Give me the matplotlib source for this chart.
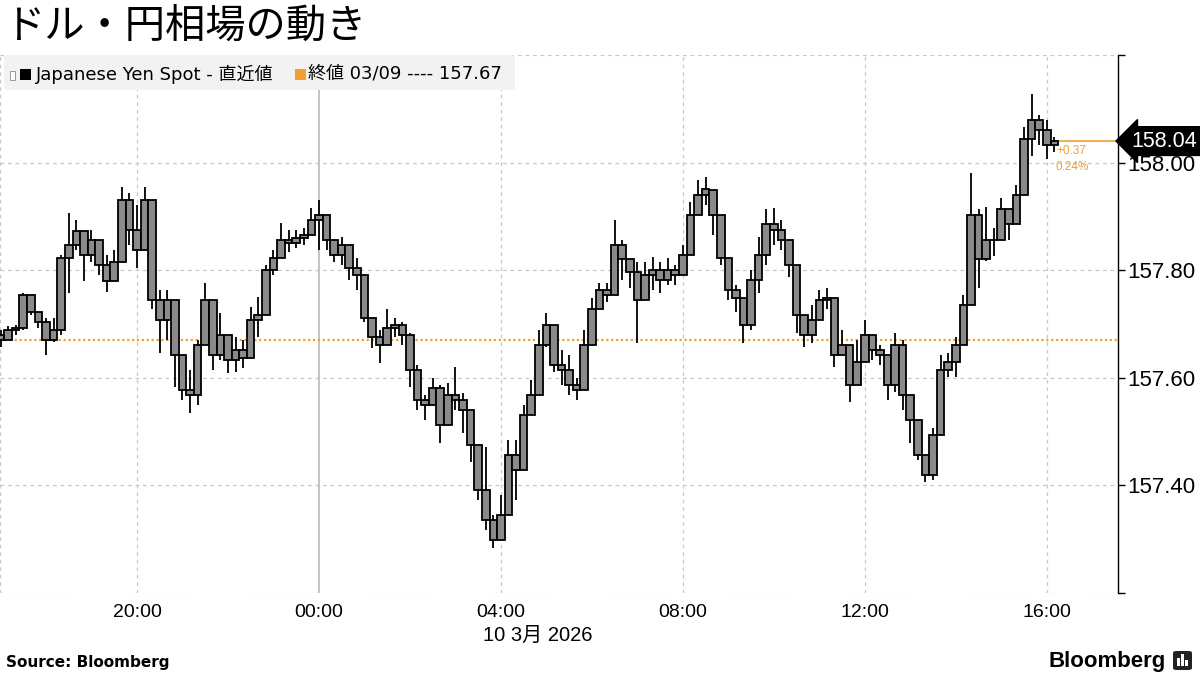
import matplotlib
matplotlib.use("Agg")
import matplotlib.pyplot as plt
import matplotlib.dates as mdates
from matplotlib.patches import FancyBboxPatch, Rectangle
import numpy as np
import pandas as pd

# 10-minute bars, USD/JPY, 2026-03-09 17:00 -> 2026-03-10 16:10
start_time = "2026-03-09 17:00"
first_open = 157.680
closes = [
    157.671, 157.689, 157.693, 157.754, 157.723, 157.704, 157.671, 157.689, 157.823, 157.847,
    157.872, 157.829, 157.857, 157.810, 157.779, 157.816, 157.931, 157.875, 157.838, 157.931,
    157.745, 157.708, 157.745, 157.643, 157.578, 157.568, 157.661, 157.745, 157.643, 157.680,
    157.634, 157.652, 157.637, 157.708, 157.717, 157.801, 157.823, 157.857, 157.851, 157.860,
    157.866, 157.894, 157.903, 157.857, 157.829, 157.847, 157.805, 157.792, 157.712, 157.675,
    157.661, 157.693, 157.699, 157.680, 157.615, 157.559, 157.550, 157.581, 157.513, 157.568,
    157.559, 157.540, 157.475, 157.392, 157.336, 157.299, 157.345, 157.457, 157.429, 157.531,
    157.568, 157.661, 157.699, 157.624, 157.615, 157.587, 157.578, 157.661, 157.727, 157.764,
    157.754, 157.847, 157.820, 157.797, 157.745, 157.792, 157.801, 157.782, 157.801, 157.792,
    157.829, 157.903, 157.940, 157.950, 157.903, 157.823, 157.764, 157.749, 157.699, 157.782,
    157.829, 157.885, 157.875, 157.857, 157.810, 157.717, 157.680, 157.708, 157.745, 157.749,
    157.643, 157.661, 157.587, 157.630, 157.680, 157.652, 157.643, 157.587, 157.661, 157.568,
    157.522, 157.457, 157.420, 157.494, 157.615, 157.630, 157.661, 157.736, 157.903, 157.820,
    157.857, 157.857, 157.913, 157.885, 157.940, 158.043, 158.080, 158.061, 158.033, 158.040,
]
highs = [
    157.689, 157.697, 157.699, 157.758, 157.749, 157.717, 157.712, 157.712, 157.829, 157.907,
    157.894, 157.847, 157.875, 157.847, 157.829, 157.838, 157.955, 157.944, 157.922, 157.954,
    157.903, 157.764, 157.764, 157.727, 157.643, 157.615, 157.671, 157.777, 157.689, 157.721,
    157.665, 157.676, 157.671, 157.732, 157.751, 157.810, 157.838, 157.888, 157.875, 157.875,
    157.879, 157.916, 157.931, 157.898, 157.847, 157.862, 157.829, 157.823, 157.749, 157.712,
    157.689, 157.727, 157.712, 157.704, 157.684, 157.624, 157.568, 157.600, 157.587, 157.591,
    157.621, 157.572, 157.522, 157.457, 157.472, 157.345, 157.382, 157.485, 157.485, 157.550,
    157.596, 157.689, 157.721, 157.689, 157.652, 157.643, 157.600, 157.689, 157.749, 157.777,
    157.777, 157.894, 157.857, 157.816, 157.816, 157.816, 157.825, 157.816, 157.823, 157.810,
    157.847, 157.926, 157.968, 157.974, 157.940, 157.842, 157.810, 157.773, 157.736, 157.801,
    157.862, 157.913, 157.916, 157.894, 157.842, 157.745, 157.712, 157.736, 157.764, 157.767,
    157.671, 157.689, 157.628, 157.671, 157.708, 157.674, 157.661, 157.611, 157.684, 157.671,
    157.550, 157.503, 157.441, 157.507, 157.643, 157.647, 157.676, 157.754, 157.981, 157.913,
    157.918, 157.879, 157.935, 157.903, 157.959, 158.067, 158.127, 158.089, 158.080, 158.047,
]
lows = [
    157.658, 157.671, 157.680, 157.689, 157.717, 157.693, 157.643, 157.667, 157.680, 157.758,
    157.838, 157.779, 157.816, 157.792, 157.760, 157.797, 157.866, 157.847, 157.805, 157.894,
    157.727, 157.647, 157.671, 157.583, 157.559, 157.535, 157.550, 157.708, 157.615, 157.634,
    157.609, 157.611, 157.619, 157.661, 157.676, 157.745, 157.792, 157.829, 157.834, 157.842,
    157.847, 157.872, 157.838, 157.838, 157.816, 157.810, 157.782, 157.764, 157.704, 157.656,
    157.628, 157.671, 157.676, 157.661, 157.583, 157.540, 157.522, 157.559, 157.479, 157.540,
    157.540, 157.498, 157.444, 157.373, 157.317, 157.284, 157.312, 157.364, 157.373, 157.447,
    157.540, 157.568, 157.658, 157.611, 157.587, 157.568, 157.559, 157.587, 157.680, 157.736,
    157.740, 157.801, 157.782, 157.767, 157.665, 157.751, 157.764, 157.758, 157.773, 157.773,
    157.801, 157.872, 157.918, 157.922, 157.866, 157.810, 157.745, 157.723, 157.665, 157.689,
    157.758, 157.810, 157.847, 157.838, 157.788, 157.684, 157.658, 157.665, 157.723, 157.727,
    157.620, 157.643, 157.555, 157.596, 157.652, 157.634, 157.624, 157.559, 157.574, 157.540,
    157.479, 157.447, 157.407, 157.410, 157.578, 157.602, 157.602, 157.689, 157.810, 157.767,
    157.817, 157.826, 157.869, 157.856, 157.922, 157.987, 158.012, 158.033, 158.006, 158.020,
]
prev_close = 157.67
last_price = 158.04
change_txt = "+0.37"
change_pct = "0.24%"
y_ticks = [157.2, 157.4, 157.6, 157.8, 158.0, 158.2]
x_tick_times = ["2026-03-09 20:00", "2026-03-10 00:00", "2026-03-10 04:00",
                "2026-03-10 08:00", "2026-03-10 12:00", "2026-03-10 16:00"]
x_tick_labels = ["20:00", "00:00", "04:00", "08:00", "12:00", "16:00"]

ORANGE = "#f0a030"
GRID = "#c8c8c8"
JP = ["Noto Sans CJK JP", "DejaVu Sans"]
NUM = ["Liberation Sans", "Noto Sans CJK JP"]

W, H = 1200, 675
def fx(px):
    return px / W
def fy(py):
    return 1 - py / H

closes = np.array(closes)
opens = np.concatenate([[first_open], closes[:-1]])
highs = np.maximum(np.array(highs), np.maximum(opens, closes))
lows = np.minimum(np.array(lows), np.minimum(opens, closes))
times = mdates.date2num(pd.date_range(start_time, periods=len(closes), freq="10min").to_pydatetime())
bar_w = 10 / 1440

fig = plt.figure(figsize=(12, 6.75), dpi=100)
ax = fig.add_axes([0, fy(593), fx(1118), (593 - 55) / H])

x0 = mdates.date2num(pd.Timestamp("2026-03-09 16:59:20"))
x1 = mdates.date2num(pd.Timestamp("2026-03-10 17:34:00"))
ax.set_xlim(x0, x1)
ax.set_ylim(157.2, 158.2)

# grid
for v in y_ticks:
    ax.axhline(v, color=GRID, lw=0.9, ls=(0, (3, 3)), zorder=0)
xt = mdates.date2num(pd.to_datetime(x_tick_times).to_pydatetime())
for t, lab in zip(xt, x_tick_labels):
    if lab == "00:00":
        ax.axvline(t, color="#b4b4b4", lw=1.1, zorder=0)
    else:
        ax.axvline(t, color=GRID, lw=0.9, ls=(0, (3, 3)), zorder=0)
ax.axvline(x0, color=GRID, lw=0.9, ls=(0, (3, 3)), zorder=0)

# previous close line
ax.axhline(prev_close, color=ORANGE, lw=1.6, ls=(0, (1, 1.2)), zorder=1)

# candles
ax.vlines(times, lows, highs, color="black", lw=1.3, zorder=2)
ax.bar(times, closes - opens, bottom=opens, width=bar_w, color="#8a8a8a",
       edgecolor="black", linewidth=1.3, zorder=3)

# last price line + label
ax.plot([times[-1], x1], [last_price, last_price], color=ORANGE, lw=1.2, zorder=2)
ax.text(1.012, last_price, f"{last_price:.2f}", transform=ax.get_yaxis_transform(),
        color="white", fontsize=15.5, family=NUM, va="center", ha="left", zorder=10,
        bbox=dict(boxstyle="larrow,pad=0.18", fc="black", ec="black"), clip_on=False)
ax.text(times[-1] + 0.0015, last_price - 0.018, change_txt, color=ORANGE, fontsize=8.5,
        family=NUM, va="center", ha="left")
ax.text(times[-1] + 0.0015, last_price - 0.048, change_pct, color=ORANGE, fontsize=8.5,
        family=NUM, va="center", ha="left")

# axes styling
for s in ["top", "left", "bottom"]:
    ax.spines[s].set_visible(False)
ax.spines["right"].set_color("black")
ax.spines["right"].set_linewidth(1.0)
ax.yaxis.tick_right()
ax.set_yticks(y_ticks)
ax.set_yticklabels(["" if v in (157.2, 158.2) else f"{v:.2f}" for v in y_ticks])
ax.tick_params(axis="y", direction="out", length=5, width=1, pad=2, labelsize=16)
ax.set_xticks(xt)
ax.set_xticklabels(x_tick_labels)
ax.tick_params(axis="x", length=0, pad=8, labelsize=14)
for lab in ax.get_xticklabels() + ax.get_yticklabels():
    lab.set_family(NUM)

# title
fig.text(fx(4), fy(26), "ドル・円相場の動き", family=JP, fontsize=29, va="center", ha="left")

# legend box
fig.patches.append(FancyBboxPatch((fx(4), fy(90)), fx(511), 35 / H, boxstyle="round,pad=0,rounding_size=0.004",
                                  transform=fig.transFigure, fc="#f2f2f2", ec="none", zorder=5))
fig.patches.append(Rectangle((fx(10), fy(80)), fx(5), 9 / H, transform=fig.transFigure,
                             fc="white", ec="#888888", lw=0.6, zorder=6))
fig.patches.append(Rectangle((fx(20), fy(80)), fx(11), 11 / H, transform=fig.transFigure,
                             fc="black", ec="none", zorder=6))
fig.text(fx(36), fy(74), "Japanese Yen Spot - 直近値", family=["DejaVu Sans", "Noto Sans CJK JP"],
         fontsize=13, va="center", ha="left", zorder=7)
fig.patches.append(Rectangle((fx(295), fy(80)), fx(11), 11 / H, transform=fig.transFigure,
                             fc=ORANGE, ec="none", zorder=6))
fig.text(fx(308), fy(74), "終値 03/09 ---- 157.67", family=["DejaVu Sans", "Noto Sans CJK JP"],
         fontsize=13, va="center", ha="left", zorder=7)

# date label
fig.text(fx(483), fy(635), "10 3月 2026", family=NUM, fontsize=14.5, va="center", ha="left")

# footer
fig.text(fx(6), fy(662), "Source: Bloomberg", family="DejaVu Sans", fontweight="bold",
         fontsize=11, va="center", ha="left")
fig.text(fx(1166), fy(661), "Bloomberg", family="Liberation Sans", fontweight="bold",
         fontsize=16, va="center", ha="right")
fig.patches.append(FancyBboxPatch((fx(1173), fy(670)), fx(19), 19 / H,
                                  boxstyle="round,pad=0,rounding_size=0.003",
                                  transform=fig.transFigure, fc="#222222", ec="none"))
for bx, bh in [(1177, 8), (1181, 12), (1185, 6)]:
    fig.patches.append(Rectangle((fx(bx), fy(666)), fx(2.5), bh / H,
                                 transform=fig.transFigure, fc="white", ec="none"))

fig.savefig("out.png", dpi=100)
